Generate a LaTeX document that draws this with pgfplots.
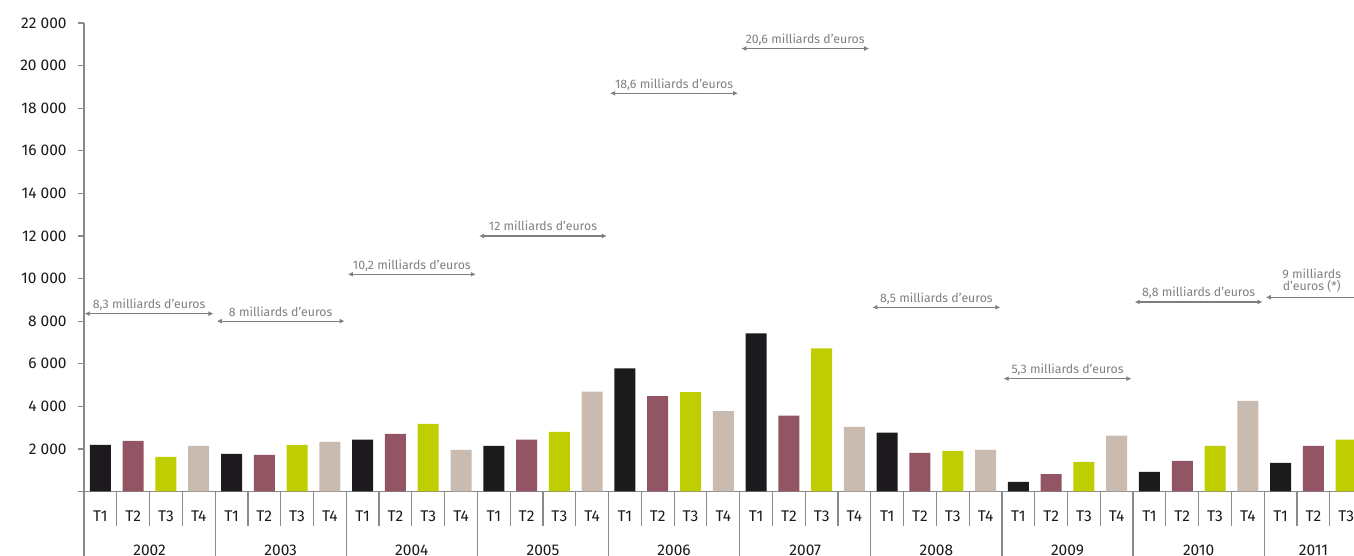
\documentclass[border=0pt]{standalone}
\usepackage{pgfplots}
\pgfplotsset{compat=1.18}
\usepackage{fontspec}
\setmainfont{Fira Sans}[Scale=1.55]
\usetikzlibrary{arrows.meta}
\definecolor{cA}{HTML}{1C1A1D}
\definecolor{cB}{HTML}{935563}
\definecolor{cC}{HTML}{BFCE00}
\definecolor{cD}{HTML}{C9BBAF}
\definecolor{axgray}{HTML}{8A8A8A}
\definecolor{anngray}{HTML}{7F7F7F}
\definecolor{txt}{HTML}{1A1A1A}
\begin{document}
\begin{tikzpicture}[x=1pt,y=1pt,
  annarrow/.style={draw=anngray, line width=1.1pt, {Latex[length=5pt,width=5pt]}-{Latex[length=5pt,width=5pt]}},
  anntext/.style={text=anngray, font=\fontsize{7.94}{9.2}\selectfont, anchor=base, inner sep=0pt},
  yr/.style={anchor=base, text=txt, font=\fontsize{10}{12}\selectfont}]
\path[use as bounding box] (0,0) rectangle (1354,556);
\clip (0,0) rectangle (1354,556);
\begin{axis}[
  at={(84pt,64.5pt)}, anchor=south west,
  scale only axis, width=1270pt, height=468.5pt,
  xmin=-0.5, xmax=38.24, ymin=0, ymax=22000,
  clip=false,
  axis lines=left,
  axis line style={draw=axgray, line width=1.3pt, -},
  tick align=outside,
  major tick length=6pt,
  tick style={draw=axgray, line width=1.2pt},
  major x tick style={draw=none},
  scaled y ticks=false,
  ytick={0,2000,...,22000},
  yticklabels={{},{2 000},{4 000},{6 000},{8 000},{10 000},{12 000},{14 000},{16 000},{18 000},{20 000},{22 000}},
  yticklabel style={text=txt, xshift=-6pt},
  xtick={0,...,38},
  xticklabels={T1,T2,T3,T4,T1,T2,T3,T4,T1,T2,T3,T4,T1,T2,T3,T4,T1,T2,T3,T4,T1,T2,T3,T4,T1,T2,T3,T4,T1,T2,T3,T4,T1,T2,T3,T4,T1,T2,T3},
  xticklabel style={text=txt, anchor=center, yshift=-19pt},
]
\addplot[ybar, bar width=21pt, bar shift=0pt, fill=cA, draw=none] coordinates {
 (0,2190) (4,1770) (8,2430) (12,2140) (16,5780) (20,7420) (24,2760) (28,450) (32,920) (36,1340)};
\addplot[ybar, bar width=21pt, bar shift=0pt, fill=cB, draw=none] coordinates {
 (1,2380) (5,1720) (9,2710) (13,2430) (17,4480) (21,3560) (25,1810) (29,820) (33,1440) (37,2140)};
\addplot[ybar, bar width=21pt, bar shift=0pt, fill=cC, draw=none] coordinates {
 (2,1630) (6,2190) (10,3180) (14,2800) (18,4670) (22,6720) (26,1910) (30,1390) (34,2140) (38,2430)};
\addplot[ybar, bar width=21pt, bar shift=0pt, fill=cD, draw=none] coordinates {
 (3,2140) (7,2330) (11,1960) (15,4690) (19,3770) (23,3040) (27,1960) (31,2620) (35,4260)};
% separators below the axis
\pgfplotsinvokeforeach{0.5,1.5,2.5,4.5,5.5,6.5,8.5,9.5,10.5,12.5,13.5,14.5,16.5,17.5,18.5,20.5,21.5,22.5,24.5,25.5,26.5,28.5,29.5,30.5,32.5,33.5,34.5,36.5,37.5}{
  \draw[axgray, line width=1.2pt] (axis cs:#1,0) -- ++(0pt,-34.5pt);
}
\pgfplotsinvokeforeach{-0.5,3.5,7.5,11.5,15.5,19.5,23.5,27.5,31.5,35.5}{
  \draw[axgray, line width=1.2pt] (axis cs:#1,0) -- ++(0pt,-80pt);
}
% year labels
\node[yr] at ([yshift=-64pt]axis cs:1.5,0) {2002};
\node[yr] at ([yshift=-64pt]axis cs:5.5,0) {2003};
\node[yr] at ([yshift=-64pt]axis cs:9.5,0) {2004};
\node[yr] at ([yshift=-64pt]axis cs:13.5,0) {2005};
\node[yr] at ([yshift=-64pt]axis cs:17.5,0) {2006};
\node[yr] at ([yshift=-64pt]axis cs:21.5,0) {2007};
\node[yr] at ([yshift=-64pt]axis cs:25.5,0) {2008};
\node[yr] at ([yshift=-64pt]axis cs:29.5,0) {2009};
\node[yr] at ([yshift=-64pt]axis cs:33.5,0) {2010};
\node[yr] at ([yshift=-64pt]axis cs:37,0) {2011};
% annotations
\draw[annarrow] (axis cs:-0.48,8350) -- (axis cs:3.45,8350) node[midway, anntext, yshift=5pt] {8,3 milliards d’euros};
\draw[annarrow] (axis cs:3.55,8000) -- (axis cs:7.45,8000) node[midway, anntext, yshift=5pt] {8 milliards d’euros};
\draw[annarrow] (axis cs:7.55,10200) -- (axis cs:11.45,10200) node[midway, anntext, yshift=5pt] {10,2 milliards d’euros};
\draw[annarrow] (axis cs:11.55,12000) -- (axis cs:15.45,12000) node[midway, anntext, yshift=5pt] {12 milliards d’euros};
\draw[annarrow] (axis cs:15.55,18700) -- (axis cs:19.45,18700) node[midway, anntext, yshift=5pt] {18,6 milliards d’euros};
\draw[annarrow] (axis cs:19.55,20800) -- (axis cs:23.45,20800) node[midway, anntext, yshift=5pt] {20,6 milliards d’euros};
\draw[annarrow] (axis cs:23.55,8650) -- (axis cs:27.45,8650) node[midway, anntext, yshift=5pt] {8,5 milliards d’euros};
\draw[annarrow] (axis cs:27.55,5300) -- (axis cs:31.45,5300) node[midway, anntext, yshift=5pt] {5,3 milliards d’euros};
\draw[annarrow] (axis cs:31.55,8900) -- (axis cs:35.45,8900) node[midway, anntext, yshift=5pt] {8,8 milliards d’euros};
\draw[draw=anngray, line width=1.1pt, {Latex[length=5pt,width=5pt]}-] (axis cs:35.55,9120) -- (axis cs:39.5,9120);
\node[anntext] at ([yshift=6.5pt]axis cs:36.95,9120) {d’euros (*)};
\node[anntext] at ([yshift=19pt]axis cs:36.95,9120) {9 milliards};
\end{axis}
\end{tikzpicture}
\end{document}
